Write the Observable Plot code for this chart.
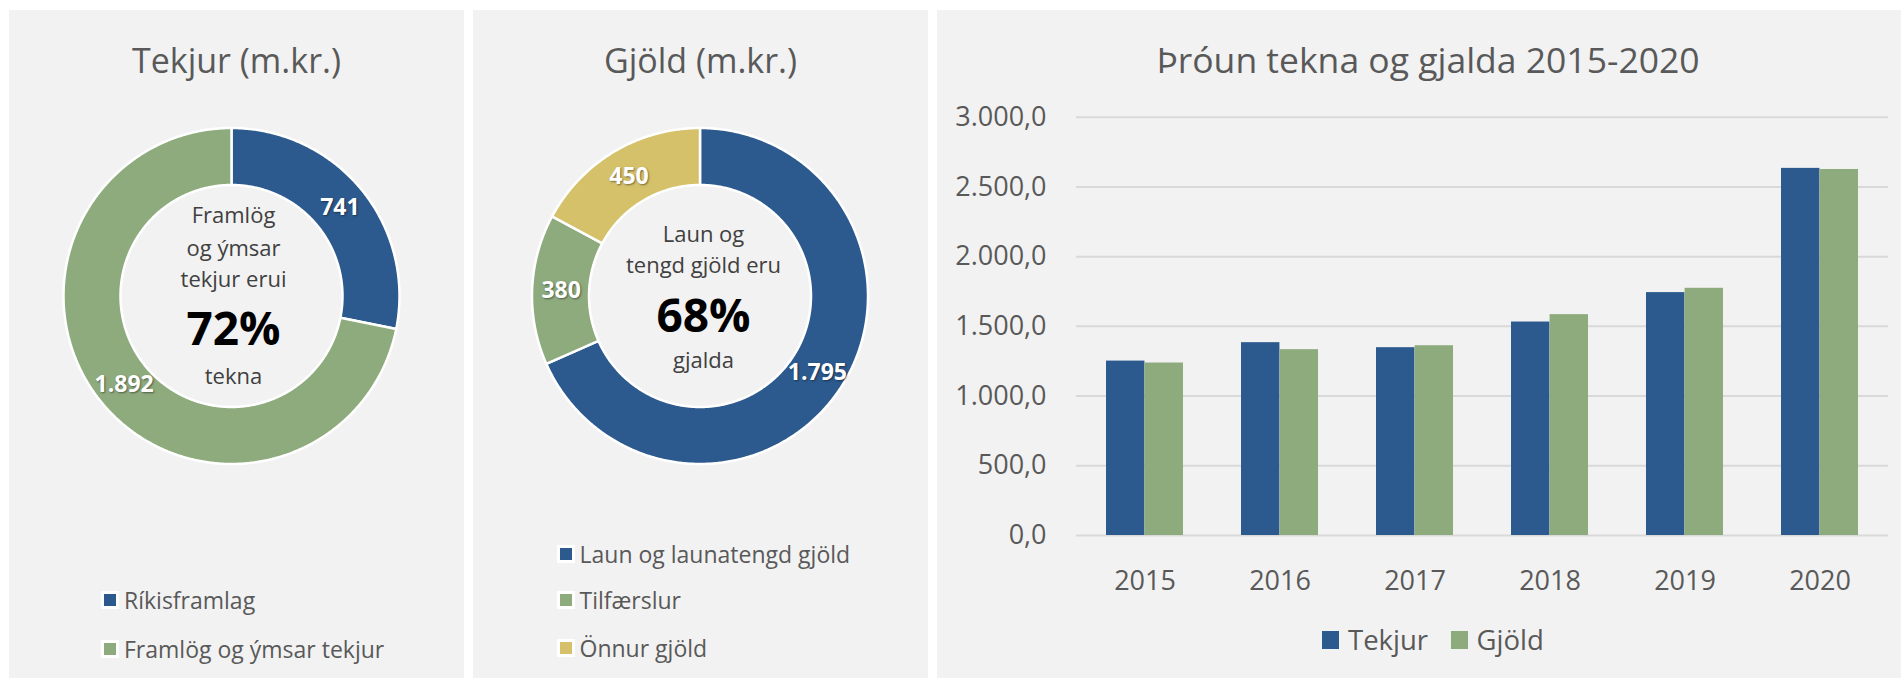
<!DOCTYPE html>
<html><head><meta charset="utf-8">
<script src="https://cdn.jsdelivr.net/npm/d3@7"></script>
<script src="https://cdn.jsdelivr.net/npm/@observablehq/plot@0.6"></script>
<style>
html,body{margin:0;padding:0;background:#fff;width:1901px;height:678px;overflow:hidden;font-family:"Open Sans",sans-serif;}
.panel{position:absolute;top:10px;height:668px;background:#f2f2f2;}
.panel svg{position:absolute;left:0;top:0;}
.title{position:absolute;left:0;right:0;text-align:center;color:#595959;font-size:34px;line-height:40px;white-space:nowrap;}
.ctr{position:absolute;color:#404040;font-size:22px;line-height:22px;white-space:nowrap;transform:translate(-50%,-50%);}
.big{color:#000;font-weight:bold;font-size:46px;line-height:46px;}
.lrow{position:absolute;display:flex;align-items:center;color:#595959;font-size:23px;line-height:26px;white-space:nowrap;transform:translateY(-50%);}
.sw{width:12px;height:12px;border:3px solid #fff;margin-right:5px;flex:none;}
svg.donut text{text-shadow:1px 1px 2px rgba(0,0,0,0.45);}
</style>
</head><body>
<div id="p1" class="panel" style="left:9px;width:455px;"></div>
<div id="p2" class="panel" style="left:473px;width:455px;"></div>
<div id="p3" class="panel" style="left:937px;width:964px;"></div>
<script>
// ---------- data ----------
const tekjurTitle = "Tekjur (m.kr.)";
const tekjurNames = ["Ríkisframlag", "Framlög og ýmsar tekjur"];
const tekjurValues = [741, 1892];
const tekjurColors = ["#2c5a8e", "#8eab7d"];
const tekjurCenter = ["Framlög", "og ýmsar", "tekjur erui", "tekna"];

const gjoldTitle = "Gjöld (m.kr.)";
const gjoldNames = ["Laun og launatengd gjöld", "Tilfærslur", "Önnur gjöld"];
const gjoldValues = [1795, 380, 450];
const gjoldColors = ["#2c5a8e", "#8eab7d", "#d5c16a"];
const gjoldCenter = ["Laun og", "tengd gjöld eru", "gjalda"];

const barTitle = "Þróun tekna og gjalda 2015-2020";
const years = ["2015", "2016", "2017", "2018", "2019", "2020"];
const seriesNames = ["Tekjur", "Gjöld"];
const tekjurSeries = [1251, 1383, 1347, 1531, 1742, 2633];
const gjoldSeries = [1237, 1333, 1361, 1584, 1773, 2625];
const seriesColors = ["#2c5a8e", "#8eab7d"];
const yTicks = [0, 500, 1000, 1500, 2000, 2500, 3000];

// ---------- helpers ----------
const isl = d3.formatLocale({decimal: ",", thousands: ".", grouping: [3], currency: ["", ""]});
const fmtInt = isl.format(",d");
const fmtTick = isl.format(",.1f");
const FONT = '"Open Sans", sans-serif';

function donut(panelId, title, names, values, colors, cx, cy, centerLines, highlightIdx, centerX, centerYs) {
  const panel = document.getElementById(panelId);
  const W = 455, H = 668, R = 168, r = 111;
  const total = d3.sum(values);
  const pts = [], labels = [];
  let a = 0;
  values.forEach((v, i) => {
    const a0 = a, a1 = a + v / total * 2 * Math.PI;
    const n = Math.max(2, Math.ceil((a1 - a0) / (Math.PI / 360)));
    for (let k = 0; k <= n; k++) {
      const t = a0 + (a1 - a0) * k / n;
      pts.push({name: names[i], x1: R * Math.sin(t), y1: -R * Math.cos(t), x2: r * Math.sin(t), y2: -r * Math.cos(t)});
    }
    const m = (a0 + a1) / 2, rm = (R + r) / 2;
    labels.push({x: rm * Math.sin(m), y: -rm * Math.cos(m), t: fmtInt(v)});
    a = a1;
  });
  const svg = Plot.plot({
    width: W, height: H, margin: 0,
    className: "donut",
    style: {background: "transparent", fontFamily: FONT, overflow: "visible"},
    x: {domain: [-cx, W - cx], range: [0, W], axis: null},
    y: {domain: [-cy, H - cy], range: [0, H], axis: null},
    color: {domain: names, range: colors},
    marks: [
      Plot.area(pts, {x1: "x1", y1: "y1", x2: "x2", y2: "y2", fill: "name", z: "name", stroke: "white", strokeWidth: 2.5}),
      Plot.text(labels, {x: "x", y: "y", text: "t", fill: "white", fontWeight: "bold", fontSize: 23})
    ]
  });
  panel.appendChild(svg);

  const tt = document.createElement("div");
  tt.className = "title"; tt.style.top = "30px"; tt.textContent = title;
  panel.appendChild(tt);

  const pct = Math.round(values[highlightIdx] / total * 100) + "%";
  const lines = centerLines.slice(0, centerLines.length - 1).concat([pct, centerLines[centerLines.length - 1]]);
  lines.forEach((s, i) => {
    const d = document.createElement("div");
    d.className = "ctr" + (s === pct ? " big" : "");
    d.style.left = centerX + "px"; d.style.top = centerYs[i] + "px";
    d.textContent = s;
    panel.appendChild(d);
  });
}

function legend(panelId, names, colors, left, ys) {
  const panel = document.getElementById(panelId);
  names.forEach((n, i) => {
    const row = document.createElement("div");
    row.className = "lrow"; row.style.left = left + "px"; row.style.top = ys[i] + "px";
    const sw = document.createElement("div"); sw.className = "sw"; sw.style.background = colors[i];
    const tx = document.createElement("span"); tx.textContent = n;
    row.appendChild(sw); row.appendChild(tx);
    panel.appendChild(row);
  });
}

// ---------- donuts ----------
donut("p1", tekjurTitle, tekjurNames, tekjurValues, tekjurColors, 222.5, 286, tekjurCenter, 1, 224.5, [204, 237, 267.5, 316.5, 365]);
legend("p1", tekjurNames, tekjurColors, 92, [590, 638.5]);

donut("p2", gjoldTitle, gjoldNames, gjoldValues, gjoldColors, 227, 286, gjoldCenter, 0, 230.5, [222.5, 253.5, 303.5, 349]);
legend("p2", gjoldNames, gjoldColors, 83.5, [543.5, 590, 637.7]);

// ---------- bar chart ----------
const rows = [];
years.forEach((y, i) => {
  rows.push({year: y, series: seriesNames[0], value: tekjurSeries[i]});
  rows.push({year: y, series: seriesNames[1], value: gjoldSeries[i]});
});
const p3 = document.getElementById("p3");
const BW = 964, BH = 600, ML = 139, MR = 13, MT = 106.7, MB = 75;
const step = (BW - ML - MR) / years.length;
const half = step * 0.57 / 2;
const bar = Plot.plot({
  width: BW, height: BH,
  marginLeft: ML, marginRight: MR, marginTop: MT, marginBottom: MB,
  style: {background: "transparent", fontFamily: FONT, fontSize: "27px", color: "#595959", overflow: "visible"},
  x: {domain: years, paddingInner: 0.43, paddingOuter: 0.215, tickSize: 0, tickPadding: 35, label: null},
  y: {domain: [0, 3000], ticks: yTicks, tickFormat: fmtTick, tickSize: 0, tickPadding: 30, label: null},
  marks: [
    Plot.ruleY(yTicks, {stroke: "#d9d9d9", strokeWidth: 2}),
    Plot.barY(rows.filter(d => d.series === seriesNames[0]), {x: "year", y: "value", fill: seriesColors[0], insetRight: half}),
    Plot.barY(rows.filter(d => d.series === seriesNames[1]), {x: "year", y: "value", fill: seriesColors[1], insetLeft: half})
  ]
});
p3.appendChild(bar);
const bt = document.createElement("div");
bt.className = "title"; bt.style.top = "28.5px"; bt.style.left = "0px"; bt.style.right = "-18px"; bt.style.fontSize = "35.5px"; bt.textContent = barTitle;
p3.appendChild(bt);

// bar legend
const legendLefts = [385, 513.5];
seriesNames.forEach((n, i) => {
  const row = document.createElement("div");
  row.className = "lrow"; row.style.left = legendLefts[i] + "px"; row.style.top = "630px"; row.style.fontSize = "27.5px"; row.style.lineHeight = "32px";
  const sw = document.createElement("div"); sw.style.cssText = "width:17px;height:18px;margin-right:9px;flex:none;background:" + seriesColors[i];
  const tx = document.createElement("span"); tx.textContent = n;
  row.appendChild(sw); row.appendChild(tx);
  p3.appendChild(row);
});
</script>
</body></html>
